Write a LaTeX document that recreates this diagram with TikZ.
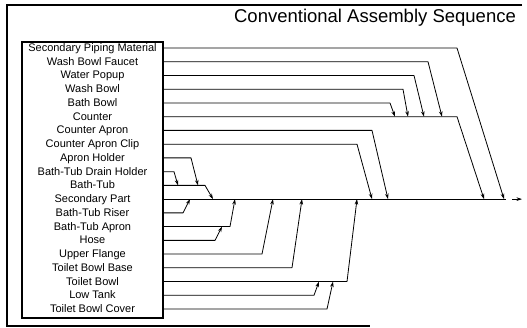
\documentclass[tikz,border=0pt]{standalone}
\usepackage{fontspec}
\setmainfont{Liberation Sans}
\usetikzlibrary{arrows.meta}
\tikzset{
  lbl/.style={font=\fontsize{11}{13}\selectfont, text height=7.5pt, text depth=0.5pt, inner sep=0pt},
  conn/.style={line width=0.8pt, line join=round},
  arr/.style={conn, -{Stealth[length=5.5pt,width=3.6pt]}},
  frame/.style={line width=1.1pt},
  boxst/.style={draw, line width=1.4pt, minimum width=141pt, minimum height=276pt, inner sep=0pt}
}
\begin{document}
\begin{tikzpicture}[x=1pt,y=-1pt]
\useasboundingbox (0,0) rectangle (527,328);
% outer frame
\coordinate (fa) at (522,5);
\coordinate (fb) at (7,5);
\coordinate (fc) at (7,326);
\coordinate (fd) at (370,326);
\draw[frame] (fa) -- (fb) -- (fc) -- (fd);
% title
\node[font=\fontsize{18.5}{20}\selectfont, inner sep=0pt] (title) at (375,18) {Conventional Assembly Sequence};
% inner box
\node[boxst] (box) at (92.5,180) {};
% labels
\node[lbl] (l1) at (92.5,48.0) {Secondary Piping Material};
\node[lbl] (l2) at (92.5,61.7) {Wash Bowl Faucet};
\node[lbl] (l3) at (92.5,75.5) {Water Popup};
\node[lbl] (l4) at (92.5,89.2) {Wash Bowl};
\node[lbl] (l5) at (92.5,103.0) {Bath Bowl};
\node[lbl] (l6) at (92.5,116.7) {Counter};
\node[lbl] (l7) at (92.5,130.4) {Counter Apron};
\node[lbl] (l8) at (92.5,144.2) {Counter Apron Clip};
\node[lbl] (l9) at (92.5,157.9) {Apron Holder};
\node[lbl] (l10) at (92.5,171.7) {Bath-Tub Drain Holder};
\node[lbl] (l11) at (92.5,185.4) {Bath-Tub};
\node[lbl] (l12) at (92.5,199.1) {Secondary Part};
\node[lbl] (l13) at (92.5,212.9) {Bath-Tub Riser};
\node[lbl] (l14) at (92.5,226.6) {Bath-Tub Apron};
\node[lbl] (l15) at (92.5,240.4) {Hose};
\node[lbl] (l16) at (92.5,254.1) {Upper Flange};
\node[lbl] (l17) at (92.5,267.8) {Toilet Bowl Base};
\node[lbl] (l18) at (92.5,281.6) {Toilet Bowl};
\node[lbl] (l19) at (92.5,295.3) {Low Tank};
\node[lbl] (l20) at (92.5,309.1) {Toilet Bowl Cover};
% corners
\coordinate (c1) at (457,48.0);
\coordinate (c2) at (428,61.7);
\coordinate (c3) at (414,75.5);
\coordinate (c4) at (403,89.2);
\coordinate (c5) at (390,103.0);
\coordinate (c6) at (457,116.7);
\coordinate (c7) at (372,130.4);
\coordinate (c8) at (357,144.2);
\coordinate (c9) at (191,157.9);
\coordinate (c10) at (174,171.7);
\coordinate (c11) at (205,185.4);
\coordinate (c12) at (506,199.1);
\coordinate (c12b) at (512,199.1);
\coordinate (c12e) at (522,199.1);
\coordinate (c13) at (183,212.9);
\coordinate (c14) at (230,226.6);
\coordinate (c15) at (215,240.4);
\coordinate (c16) at (262,254.1);
\coordinate (c17) at (292,267.8);
\coordinate (c18) at (347,281.6);
\coordinate (c19) at (314,295.3);
\coordinate (c20) at (327,309.1);
% targets
\coordinate (t1) at (504,199.1);
\coordinate (t2) at (442,116.7);
\coordinate (t3) at (424,116.7);
\coordinate (t4) at (408,116.7);
\coordinate (t5) at (395,116.7);
\coordinate (t6) at (484,199.1);
\coordinate (t7) at (388,199.1);
\coordinate (t8) at (372,199.1);
\coordinate (t9) at (198,185.4);
\coordinate (t10) at (178,185.4);
\coordinate (t11) at (213,199.1);
\coordinate (t13) at (190,199.1);
\coordinate (t14) at (235,199.1);
\coordinate (t15) at (222,226.6);
\coordinate (t16) at (273,199.1);
\coordinate (t17) at (302,199.1);
\coordinate (t18) at (357,199.1);
\coordinate (t19) at (319,281.6);
\coordinate (t20) at (333,281.6);
% connectors
\draw[arr] (box.east |- c1) -- (c1) -- (t1);
\draw[arr] (box.east |- c2) -- (c2) -- (t2);
\draw[arr] (box.east |- c3) -- (c3) -- (t3);
\draw[arr] (box.east |- c4) -- (c4) -- (t4);
\draw[arr] (box.east |- c5) -- (c5) -- (t5);
\draw[arr] (box.east |- c6) -- (c6) -- (t6);
\draw[arr] (box.east |- c7) -- (c7) -- (t7);
\draw[arr] (box.east |- c8) -- (c8) -- (t8);
\draw[arr] (box.east |- c9) -- (c9) -- (t9);
\draw[arr] (box.east |- c10) -- (c10) -- (t10);
\draw[arr] (box.east |- c11) -- (c11) -- (t11);
\draw[conn] (box.east |- c12) -- (c12);
\draw[arr] (c12b) -- (c12e);
\draw[arr] (box.east |- c13) -- (c13) -- (t13);
\draw[arr] (box.east |- c14) -- (c14) -- (t14);
\draw[arr] (box.east |- c15) -- (c15) -- (t15);
\draw[arr] (box.east |- c16) -- (c16) -- (t16);
\draw[arr] (box.east |- c17) -- (c17) -- (t17);
\draw[arr] (box.east |- c18) -- (c18) -- (t18);
\draw[arr] (box.east |- c19) -- (c19) -- (t19);
\draw[arr] (box.east |- c20) -- (c20) -- (t20);
\end{tikzpicture}
\end{document}
